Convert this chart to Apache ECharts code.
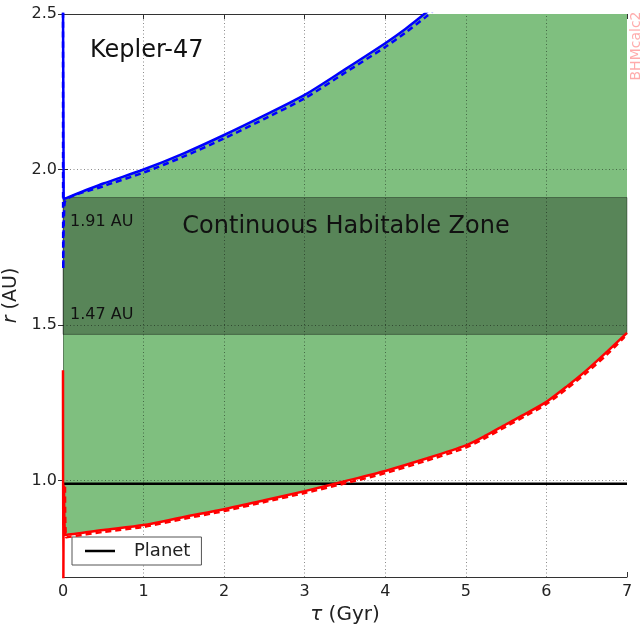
<!DOCTYPE html>
<html>
<head>
<meta charset="utf-8">
<script src="https://cdn.jsdelivr.net/npm/echarts@6/dist/echarts.min.js"></script>
<style>
html,body{margin:0;padding:0;background:#fff;}
#chart{width:643px;height:627px;}
</style>
</head>
<body>
<div id="chart"></div>
<script>
// ---- data ----
const xTicks = [0, 1, 2, 3, 4, 5, 6, 7];
const yTicks = [1.0, 1.5, 2.0, 2.5];
const xGridValues = [1, 2, 3, 4, 5, 6];
const yGridValues = [1.0, 1.5, 2.0];

// outer edge of the habitable zone (blue, solid)
const tauOuter = [0, 0.008, 0.5, 1.0, 1.5, 2.0, 2.5, 3.0, 3.5, 4.0, 4.25, 4.5, 5.0, 6.0, 7.0];
const rOuter   = [3.0, 1.905, 1.955, 2.0, 2.052, 2.111, 2.174, 2.24, 2.322, 2.406, 2.452, 2.503, 2.61, 2.86, 3.15];
// outer edge (blue, dashed)
const tauOuterDash = [0, 0.004, 0.02, 0.5, 1.0, 1.5, 2.0, 2.5, 3.0, 3.5, 4.0, 4.25, 4.5, 5.0];
const rOuterDash   = [2.7, 1.68, 1.893, 1.946, 1.99, 2.042, 2.1, 2.163, 2.229, 2.311, 2.394, 2.44, 2.49, 2.6];
// inner edge (red, solid)
const tauInner = [0, 0.003, 0.012, 0.03, 0.5, 1.0, 1.5, 2.0, 2.5, 3.0, 3.5, 4.0, 4.5, 5.0, 5.25, 5.5, 5.75, 6.0, 6.25, 6.5, 6.75, 7.0];
const rInner   = [1.355, 0.6, 0.985, 0.825, 0.841, 0.857, 0.883, 0.908, 0.937, 0.966, 0.998, 1.031, 1.07, 1.113, 1.145, 1.181, 1.216, 1.253, 1.302, 1.355, 1.414, 1.475];
// inner edge (red, dashed)
const tauInnerDash = [0.025, 0.04, 0.5, 1.0, 1.5, 2.0, 2.5, 3.0, 3.5, 4.0, 4.5, 5.0, 5.25, 5.5, 5.75, 6.0, 6.25, 6.5, 6.75, 6.97];
const rInnerDash   = [0.98, 0.818, 0.835, 0.851, 0.877, 0.902, 0.931, 0.96, 0.991, 1.024, 1.063, 1.106, 1.138, 1.174, 1.209, 1.246, 1.295, 1.347, 1.405, 1.462];
// planet orbit
const planetTau = [0, 7];
const planetR   = [0.99, 0.99];
// continuous habitable zone
const chzInner = 1.47;
const chzOuter = 1.91;

const pairs = (xs, ys) => xs.map((x, i) => [x, ys[i]]);

const FONT = 'DejaVu Sans';
const chart = echarts.init(document.getElementById('chart'), null, {renderer: 'canvas'});

const frameLine = {show: true, lineStyle: {color: '#333', width: 1}};
const tickIn = {show: true, inside: true, length: 5, lineStyle: {color: '#333', width: 1}};
const gridStyle = {color: 'rgba(0,0,0,0.45)', width: 1, type: [1, 2.5]};
const SM = 0.25;

const option = {
  animation: false,
  backgroundColor: '#fff',
  grid: {left: 63, right: 16, top: 14, bottom: 50, containLabel: false, outerBoundsMode: 'none'},
  xAxis: [
    {
      type: 'value', min: 0, max: 7, interval: 1, position: 'bottom',
      name: '{i|τ} (Gyr)', nameLocation: 'middle', nameGap: 13,
      nameTextStyle: {fontFamily: FONT, fontSize: 20, color: '#222', verticalAlign: 'top',
        rich: {i: {fontFamily: FONT, fontStyle: 'italic', fontSize: 20, color: '#222'}}},
      axisLine: frameLine, axisTick: tickIn, splitLine: {show: false},
      axisLabel: {fontFamily: FONT, fontSize: 16, color: '#222', margin: 7}
    },
    {
      type: 'value', min: 0, max: 7, interval: 1, position: 'top',
      axisLine: frameLine, axisTick: tickIn, splitLine: {show: false},
      axisLabel: {show: false}
    }
  ],
  yAxis: [
    {
      type: 'value', min: 0.69, max: 2.5, position: 'left',
      name: '{i|r} (AU)', nameLocation: 'middle', nameGap: 21,
      nameTextStyle: {fontFamily: FONT, fontSize: 19, color: '#222',
        rich: {i: {fontFamily: FONT, fontStyle: 'italic', fontSize: 19, color: '#222'}}},
      axisLine: frameLine,
      axisTick: Object.assign({}, tickIn, {customValues: yTicks}),
      splitLine: {show: false},
      axisLabel: {fontFamily: FONT, fontSize: 16, color: '#222', margin: 6,
        customValues: yTicks, formatter: v => Number(v).toFixed(1)}
    },
    {
      type: 'value', min: 0.69, max: 2.5, position: 'right',
      axisLine: frameLine,
      axisTick: Object.assign({}, tickIn, {customValues: yTicks}),
      splitLine: {show: false}, axisLabel: {show: false}
    }
  ],
  legend: {
    left: 72, top: 537,
    data: [{name: 'Planet', icon: 'rect'}],
    itemWidth: 30, itemHeight: 2.5,
    backgroundColor: '#fff', borderColor: '#555', borderWidth: 1, borderRadius: 0,
    padding: [5, 11, 5, 13],
    textStyle: {fontFamily: FONT, fontSize: 18, color: '#222', padding: [0, 0, 0, 14]},
    selectedMode: false
  },
  graphic: [
    {type: 'text', z: 100, style: {text: 'Kepler-47', x: 90, y: 51, fontFamily: FONT, fontSize: 24, fill: '#111', align: 'left', verticalAlign: 'middle'}},
    {type: 'text', z: 100, style: {text: 'Continuous Habitable Zone', x: 346, y: 227, fontFamily: FONT, fontSize: 24, fill: '#111', align: 'center', verticalAlign: 'middle'}},
    {type: 'text', z: 100, style: {text: '1.91 AU', x: 70, y: 222, fontFamily: FONT, fontSize: 16, fill: '#111', align: 'left', verticalAlign: 'middle'}},
    {type: 'text', z: 100, style: {text: '1.47 AU', x: 70, y: 315, fontFamily: FONT, fontSize: 16, fill: '#111', align: 'left', verticalAlign: 'middle'}},
    {type: 'text', z: 100, x: 636, y: 46, rotation: Math.PI / 2,
      style: {text: 'BHMcalc2', x: 0, y: 0, fontFamily: FONT, fontSize: 14, fill: 'rgba(255,0,0,0.33)', align: 'center', verticalAlign: 'middle'}}
  ],
  series: [
    { // green fill under outer edge
      type: 'line', name: 'hzOuterFill', z: 1, silent: true, smooth: SM,
      data: pairs(tauOuter, rOuter), symbol: 'none', showSymbol: false,
      lineStyle: {width: 0, opacity: 0},
      areaStyle: {color: '#7fbf7f', opacity: 1, origin: 'start'}
    },
    { // white fill under inner edge
      type: 'line', name: 'hzInnerFill', z: 1, silent: true, smooth: SM,
      data: pairs(tauInner, rInner), symbol: 'none', showSymbol: false,
      lineStyle: {width: 0, opacity: 0},
      areaStyle: {color: '#ffffff', opacity: 1, origin: 'start'}
    },
    { // continuous habitable zone band + grid lines
      type: 'line', name: 'chz', z: 2, silent: true, data: [],
      markArea: {
        silent: true, z: 2,
        itemStyle: {color: 'rgba(0,0,0,0.3)', borderColor: 'rgba(0,0,0,0.35)', borderWidth: 1},
        data: [[{yAxis: chzInner}, {yAxis: chzOuter}]]
      },
      markLine: {
        silent: true, z: 3, symbol: 'none', label: {show: false},
        lineStyle: gridStyle,
        data: xGridValues.map(v => ({xAxis: v})).concat(yGridValues.map(v => ({yAxis: v})))
      }
    },
    {
      type: 'line', name: 'Planet', z: 4,
      data: pairs(planetTau, planetR), symbol: 'none', showSymbol: false,
      color: '#000', lineStyle: {color: '#000', width: 2.5}
    },
    {
      type: 'line', name: 'outerDash', z: 5, smooth: SM,
      data: pairs(tauOuterDash, rOuterDash), symbol: 'none', showSymbol: false,
      lineStyle: {color: '#0000ff', width: 2.5, type: [6, 4]}
    },
    {
      type: 'line', name: 'outer', z: 5, smooth: SM,
      data: pairs(tauOuter, rOuter), symbol: 'none', showSymbol: false,
      lineStyle: {color: '#0000ff', width: 2.5}
    },
    {
      type: 'line', name: 'innerDash', z: 5, smooth: SM,
      data: pairs(tauInnerDash, rInnerDash), symbol: 'none', showSymbol: false,
      lineStyle: {color: '#ff0000', width: 2.5, type: [6, 4]}
    },
    {
      type: 'line', name: 'inner', z: 5, smooth: SM,
      data: pairs(tauInner, rInner), symbol: 'none', showSymbol: false,
      lineStyle: {color: '#ff0000', width: 2.5}
    }
  ]
};
chart.setOption(option);
</script>
</body>
</html>
